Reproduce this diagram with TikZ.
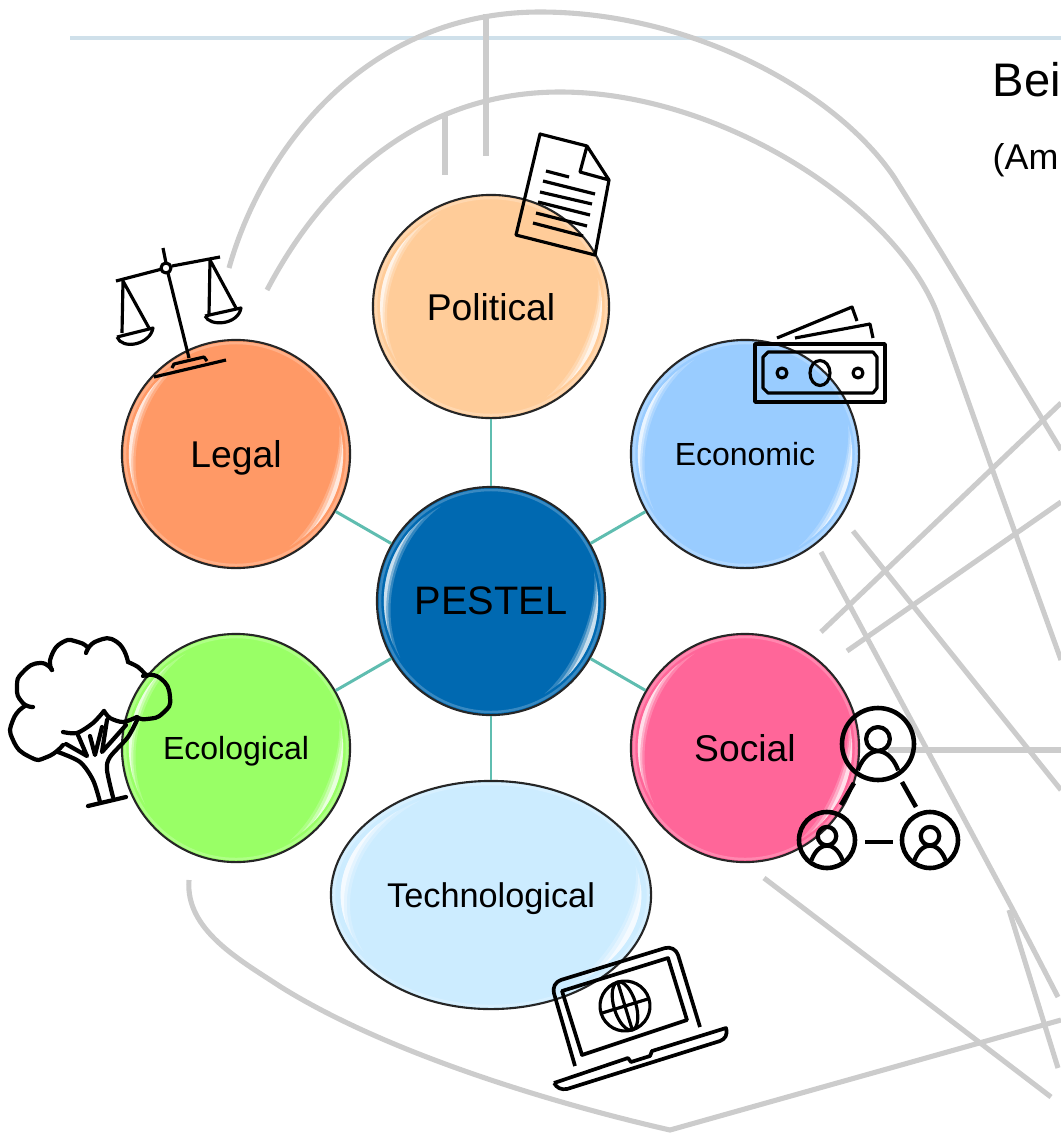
\documentclass[tikz,border=0pt]{standalone}
\usepackage{fontspec}
\setmainfont{Liberation Sans}
\usetikzlibrary{shapes.geometric}
\def\glint[#1](#2)(#3:#4:#5:#6:#7){\fill[white,opacity=#1,shift={(#2)}] plot[domain=#5:#6,samples=24] ({.94*#3*cos(\x)},{-.94*#4*sin(\x)}) -- plot[domain=#6:#5,samples=24] ({(.94-#7*sin((\x-#5)/(#6-#5)*180))*#3*cos(\x)},{-(.94-#7*sin((\x-#5)/(#6-#5)*180))*#4*sin(\x)}) -- cycle;}
\def\gloss(#1)(#2:#3){
	\draw[white,opacity=.22,line width=0.7pt] (#1) circle [x radius=#2-3, y radius=#3-3];
	\glint[.2](#1)(#2:#3:118:212:.07);
	\glint[.35](#1)(#2:#3:128:204:.05);
	\glint[.6](#1)(#2:#3:138:196:.03);
	\glint[.2](#1)(#2:#3:-60:16:.08);
	\glint[.35](#1)(#2:#3:-52:12:.06);
	\glint[.6](#1)(#2:#3:-44:6:.035);
}
\def\contact(#1,#2)(#3){
	\draw[icon,line width=1.3pt] (#1,#2) circle (#3);
	\draw[icon,line width=1.2pt] (#1,#2-#3*.14) circle (#3*.33);
	\draw[icon,line width=1.2pt] (#1-#3*.56,#2+#3*.73) .. controls (#1-#3*.4,#2+#3*.3) and (#1-#3*.15,#2+#3*.2) .. (#1,#2+#3*.2) .. controls (#1+#3*.15,#2+#3*.2) and (#1+#3*.4,#2+#3*.3) .. (#1+#3*.56,#2+#3*.73);
}
\tikzset{
	bubble/.style={ellipse,draw=black!85,line width=0.6pt,inner sep=0pt,text depth=0pt,minimum width=2.28cm,minimum height=2.28cm},
	big/.style={font=\fontsize{10.6}{12}\selectfont},
	small/.style={font=\fontsize{9.1}{11}\selectfont},
	spoke/.style={color=spokegreen,line width=0.85pt},
	road/.style={color=black!20,line width=1.45pt},
	icon/.style={color=black,line width=0.9pt,line join=round}
}
\definecolor{spokegreen}{HTML}{5FBDB0}
\definecolor{ruleblue}{HTML}{CFE0EA}
\definecolor{hubblue}{HTML}{0069B1}
\definecolor{politicalfill}{HTML}{FFCC99}
\definecolor{economicfill}{HTML}{99CCFF}
\definecolor{socialfill}{HTML}{FF6699}
\definecolor{techfill}{HTML}{CCECFF}
\definecolor{ecofill}{HTML}{99FF66}
\definecolor{legalfill}{HTML}{FF9966}
\begin{document}
\begin{tikzpicture}[x=0.01cm,y=-0.01cm]
	\useasboundingbox (0,0) rectangle (1061,1133);
	\clip (0,0) rectangle (1061,1133);
	%%%%% LINES %%%%%
	
	\draw[color=ruleblue,line width=1.1pt] (70,38) -- (1061,38);
	
	\draw[road] (229,268) .. controls (262,150) and (365,12) .. (540,12) .. controls (690,12) and (835,90) .. (894,177) -- (941,252) -- (1061,450);
	\draw[road] (267,290) .. controls (330,170) and (430,92) .. (560,92) .. controls (720,92) and (895,205) .. (937,313) -- (990,463) -- (1061,660);
	\draw[road] (486,14) -- (486,156);
	\draw[road] (445,115) -- (445,175);
	
	\draw[road] (821,632) -- (1061,403);
	\draw[road] (847,651) -- (1061,502);
	\draw[road] (853,531) -- (1061,790);
	\draw[road] (821,552) -- (1013,910) -- (1058,997);
	\draw[road] (1009,910) -- (1058,1068);
	\draw[road] (888,750) -- (1061,750);
	\draw[road] (764,878) -- (861,952) -- (1051,1097);
	\draw[road] (189,880) .. controls (185,930) and (240,960) .. (281,987) .. controls (390,1055) and (560,1105) .. (670,1130) -- (1061,1020);
	
	%%%%% BUBBLES %%%%%
	
	\node[bubble,fill=hubblue,font=\fontsize{11.3}{13}\selectfont] (pestel) at (491,601) {PESTEL};
	\node[bubble,big,fill=politicalfill,minimum width=2.36cm,minimum height=2.23cm] (political) at (491,306.5) {Political};
	\node[bubble,small,fill=economicfill] (economic) at (745,454) {Economic};
	\node[bubble,big,fill=socialfill] (social) at (745,748) {Social};
	\node[bubble,fill=techfill,minimum width=3.2cm,font=\fontsize{9.75}{12}\selectfont] (technological) at (491,895) {Technological};
	\node[bubble,small,fill=ecofill] (ecological) at (236,748) {Ecological};
	\node[bubble,big,fill=legalfill] (legal) at (236,454) {Legal};
	
	\draw[spoke] (pestel) -- (political);
	\draw[spoke] (pestel) -- (economic);
	\draw[spoke] (pestel) -- (social);
	\draw[spoke] (pestel) -- (technological);
	\draw[spoke] (pestel) -- (ecological);
	\draw[spoke] (pestel) -- (legal);
	
	\gloss(pestel)(114:114);
	\gloss(political)(118:111.5);
	\gloss(economic)(114:114);
	\gloss(social)(114:114);
	\gloss(technological)(160:114);
	\gloss(ecological)(114:114);
	\gloss(legal)(114:114);
	
	%%%%% ICONS %%%%%
	
	% document
	\draw[icon] (587,146) -- (540,134) -- (516,235) -- (595,255) -- (609,180) -- (587,146) -- (580,172) -- (609,180);
	\draw[icon] (546,171) -- (569,177);
	\draw[icon] (543,181) -- (595,194);
	\draw[icon] (540,192) -- (592,204);
	\draw[icon] (538,202) -- (590,215);
	\draw[icon] (536,213) -- (587,226);
	\draw[icon] (533,223) -- (583,236);
	
	% scales
	\draw[icon] (116,281) -- (162,269);
	\draw[icon] (172,266) -- (220,257);
	\draw[icon] (163,248) -- (166,263);
	\draw[icon] (166,268) circle (5);
	\draw[icon] (168,273) -- (189,358);
	\draw[icon] (154,377) -- (226,360);
	\draw[icon] (172,368) -- (174,364) -- (204,357) -- (207,361);
	\draw[icon] (122,333) -- (123,281) -- (149,328);
	\draw[icon] (117,337) -- (153,328) .. controls (150,345) and (122,350) .. (117,337);
	\draw[icon] (209,315) -- (210,260) -- (236,308);
	\draw[icon] (205,316) -- (241,308) .. controls (238,325) and (210,327) .. (205,316);
	
	% banknotes
	\draw[icon,line width=1pt] (755,344) rectangle (885,402);
	\draw[icon] (768,352) -- (873,352) -- (877,357) -- (877,388) -- (873,393) -- (768,393) -- (763,388) -- (763,357) -- cycle;
	\draw[icon] (782,373) circle (5);
	\draw[icon] (858,373) circle (5);
	\draw[icon] (820,373) circle [x radius=10, y radius=12.5];
	\draw[icon] (777,338) -- (852,307) -- (857,321);
	\draw[icon] (795,338) -- (870,324) -- (873,338);
	
	% people
	\contact(878,744)(36);
	\contact(827,840)(28);
	\contact(930,840)(28);
	\draw[icon,line width=1.3pt] (854,783) -- (841,805);
	\draw[icon,line width=1.3pt] (902,782) -- (916,807);
	\draw[icon,line width=1.3pt] (865,842) -- (893,842);
	
	% tree
	\begin{scope}[icon,line width=1.2pt,line cap=round]
		\draw plot[smooth,tension=1] coordinates {(52,670) (40,663) (23,672) (17,687) (22,702) (33,707)};
		\draw plot[smooth,tension=1] coordinates {(25,706) (13,720) (13,740) (30,757) (47,757) (63,745)};
		\draw plot[smooth,tension=1] coordinates {(52,670) (51,657) (63,642) (78,642) (87,647)};
		\draw plot[smooth,tension=1] coordinates {(86,653) (97,641) (117,642) (128,662)};
		\draw plot[smooth] coordinates {(128,662) (138,667) (147,676)};
		\draw plot[smooth,tension=1] coordinates {(143,676) (160,678) (170,697) (163,713) (147,719) (137,717)};
		\draw plot[smooth] coordinates {(104,711) (110,718) (123,722) (137,717)};
		\draw plot[smooth] coordinates {(63,732) (77,733) (93,723) (104,711)};
		\draw plot[smooth] coordinates {(58,752) (80,762) (93,780) (100,802)};
		\draw plot[smooth] coordinates {(138,718) (128,737) (110,757) (107,770) (113,797)};
		\draw (88,806) -- (126,797);
		\draw (66,744) -- (87,756) -- (78,735);
		\draw (90,736) -- (95,755) -- (102,727);
		\draw (107,720) -- (102,752) -- (126,725);
	\end{scope}
	
	% laptop
	\draw[icon,line width=1.05pt,rounded corners=3pt] (575,1066) -- (551,983) -- (675,945) -- (700,1027);
	\draw[icon,line width=1.05pt] (562,991) -- (668,958) -- (687,1020) -- (582,1055) -- cycle;
	\draw[icon,line width=1.05pt] (554,1083) -- (628,1058) -- (631,1062) -- (650,1056) -- (652,1051) -- (726,1028) .. controls (728,1035) and (725,1039) .. (720,1041) -- (567,1089) .. controls (561,1090) and (557,1088) .. (554,1083);
	\begin{scope}[shift={(625,1006)},rotate=17]
		\draw[icon] (0,0) circle (25);
		\draw[icon] (0,0) circle [x radius=11, y radius=25];
		\draw[icon] (-25,0) -- (25,0);
		\draw[icon] (0,-25) -- (0,25);
	\end{scope}
	
	%%%%% TEXT %%%%%
	
	\node[anchor=base west,inner sep=0pt,font=\fontsize{13.4}{16}\selectfont] (heading) at (992,96) {Bei};
	\node[anchor=base west,inner sep=0pt,font=\fontsize{10.2}{12}\selectfont] (subheading) at (992,169) {(Am};
	
\end{tikzpicture}
\end{document}
